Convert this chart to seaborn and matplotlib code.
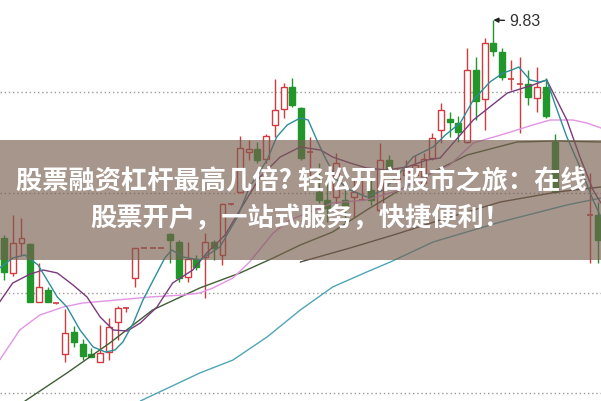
import numpy as np
import matplotlib
matplotlib.use('Agg')
import matplotlib.pyplot as plt
import seaborn as sns
from matplotlib.patches import Rectangle

nan = np.nan

# daily candles (index 0..68), prices
opens = [7.65, 7.30, 7.60, 7.59, 7.01, 7.13, 7.00, 6.49, 6.71, 6.59,
         6.49, 6.41, 6.51, 6.81, 6.95, 7.25, 7.55, 7.55, 7.55, 7.69,
         7.61, 7.26, 7.44, 7.46, 7.61, 7.48, 7.99, 8.11, 8.51, 8.54,
         8.44, 8.78, 8.94, 9.16, 8.95, 8.51, 8.11, 8.03, 8.06, 8.03,
         8.06, 8.03, 8.13, 7.93, 8.43, 8.21, 8.28, 8.28, 8.20, 8.45,
         8.73, 8.84, 8.80, 8.61, 9.33, 9.04, 9.60, 9.51, 9.24, 9.19,
         9.19, 9.05, 9.16, 8.61, nan, nan, nan, 7.88, 7.88]
closes = [7.31, 7.60, 7.65, 7.01, 7.16, 7.01, 7.00, 6.70, 6.61, 6.47,
          6.46, 6.50, 6.76, 6.95, 6.95, 7.55, 7.55, 7.55, 7.55, 7.63,
          7.25, 7.44, 7.36, 7.61, 7.55, 7.99, 7.99, 8.55, 8.54, 8.43,
          8.67, 8.93, 9.16, 8.98, 8.45, 8.53, 8.03, 7.95, 8.40, 7.95,
          8.11, 8.03, 8.03, 8.43, 8.33, 8.25, 8.33, 8.38, 8.44, 8.65,
          8.93, 8.81, 8.71, 9.33, 9.02, 9.60, 9.52, 9.26, 9.25, 9.20,
          9.06, 9.16, 8.87, 8.11, nan, nan, nan, 7.88, 7.63]
highs = [7.68, 7.88, 7.85, 7.60, 7.40, 7.16, 7.00, 6.94, 6.77, 6.64,
         6.55, 6.78, 6.85, 6.97, 6.96, 7.55, 7.55, 7.55, 7.55, 7.70,
         7.63, 7.61, 7.48, 7.70, 7.63, 8.00, 8.00, 8.67, 8.63, 8.61,
         8.69, 9.24, 9.20, 9.25, 8.96, 8.66, 8.40, 8.20, 8.50, 8.13,
         8.23, 8.26, 8.23, 8.60, 8.48, 8.35, 8.43, 8.48, 8.50, 8.70,
         9.00, 8.91, 8.87, 9.55, 9.46, 9.65, 9.83, 9.55, 9.43, 9.46,
         9.33, 9.36, 9.25, 8.69, nan, nan, nan, 8.30, 8.01]
lows = [7.23, 7.27, 7.48, 7.01, 7.01, 7.01, 6.99, 6.41, 6.56, 6.43,
        6.46, 6.41, 6.43, 6.63, 6.91, 7.16, 7.55, 7.55, 7.55, 7.40,
        7.21, 7.21, 7.33, 7.05, 7.43, 7.38, 7.98, 8.10, 8.43, 8.40,
        8.40, 8.66, 8.85, 8.96, 8.43, 8.26, 8.00, 7.81, 7.95, 7.80,
        7.86, 8.03, 7.98, 7.91, 8.31, 8.13, 8.18, 8.23, 8.18, 8.43,
        8.60, 8.66, 8.61, 8.60, 8.83, 8.73, 9.47, 9.23, 9.13, 8.70,
        8.98, 8.91, 8.85, 8.10, nan, nan, nan, 7.40, 7.40]

# moving average lines, (candle position, price)
ma5_x = [-0.5, 1.0, 2.4, 3.9, 6.1, 7.2, 8.7, 10.2, 11.6, 12.7, 13.6, 14.8, 15.9,
         17.5, 18.4, 19.2, 20.5, 22.4, 24.7, 26.7, 28.1, 30.1, 31.2, 32.4, 33.9,
         34.8, 35.8, 36.7, 38.1, 39.6, 41.5, 43.4, 45.3, 46.8, 49.1, 50.5, 52.2,
         53.7, 55.6, 57.1, 58.1, 58.9, 60.2, 61.3, 62.1, 63.0, 64.4, 65.9, 67.4, 68.3]
ma5_y = [7.35, 7.45, 7.48, 7.38, 7.06, 6.96, 6.73, 6.56, 6.51, 6.53, 6.61, 6.80, 7.03,
         7.30, 7.45, 7.53, 7.46, 7.43, 7.56, 7.86, 8.16, 8.43, 8.66, 8.78, 8.85,
         8.83, 8.63, 8.46, 8.23, 8.13, 8.06, 8.13, 8.30, 8.46, 8.56, 8.68, 8.80,
         9.03, 9.21, 9.30, 9.33, 9.36, 9.23, 9.21, 9.23, 9.00, 8.66, 8.36, 8.03, 7.86]
ma10_x = [-0.5, 1.0, 3.0, 4.5, 6.1, 7.9, 9.5, 11.0, 12.5, 14.1, 15.6, 17.5, 19.3,
          21.6, 23.2, 25.3, 27.0, 29.3, 31.6, 33.9, 36.2, 37.6, 39.6, 41.5, 43.8,
          46.1, 48.4, 49.9, 53.7, 57.6, 60.5, 62.1, 64.4, 65.9, 67.4, 68.3]
ma10_y = [7.01, 7.20, 7.29, 7.33, 7.30, 7.18, 7.06, 6.86, 6.73, 6.72, 6.80, 6.96, 7.20,
          7.33, 7.50, 7.68, 7.93, 8.26, 8.46, 8.56, 8.53, 8.46, 8.40, 8.35, 8.33,
          8.36, 8.43, 8.45, 8.83, 9.10, 9.18, 9.23, 8.83, 8.46, 8.13, 8.00]
ma20_x = [-0.5, 1.8, 4.1, 6.8, 9.0, 12.9, 16.7, 20.5, 22.4, 23.9, 26.2, 28.1, 30.8,
          32.7, 34.7, 37.6, 41.5, 45.3, 47.3, 49.1, 51.0, 53.7, 57.6, 60.5, 62.5,
          65.1, 66.7, 68.3]
ma20_y = [6.43, 6.73, 6.88, 6.96, 7.00, 7.03, 7.06, 7.08, 7.10, 7.15, 7.25, 7.41, 7.70,
          7.83, 7.90, 8.00, 8.03, 8.13, 8.23, 8.30, 8.38, 8.60, 8.70, 8.78, 8.83,
          8.83, 8.80, 8.75]
ma30_x = [2.4, 7.2, 12.1, 17.0, 22.4, 27.0, 30.8, 33.9, 37.6, 41.5, 45.3, 49.1,
          53.0, 58.7, 63.3, 68.3]
ma30_y = [6.02, 6.30, 6.60, 6.93, 7.15, 7.30, 7.45, 7.58, 7.71, 7.93, 8.13, 8.31,
          8.48, 8.61, 8.62, 8.61]
ma60_x = [33.9, 39.6, 45.3, 49.9, 56.8, 63.3, 68.3]
ma60_y = [7.41, 7.55, 7.70, 7.83, 8.01, 8.11, 8.16]
ma120_x = [15.6, 22.4, 26.2, 30.1, 33.9, 37.6, 41.5, 44.2, 49.1, 56.8, 64.4, 68.3]
ma120_y = [6.02, 6.30, 6.43, 6.66, 6.93, 7.16, 7.31, 7.41, 7.61, 7.81, 7.98, 8.05]

grid_levels = [9.11, 8.10, 7.10, 6.10]
peak_label = '9.83'
title_1 = '股票融资杠杆最高几倍? 轻松开启股市之旅：在线'
title_2 = '股票开户，一站式服务，快捷便利！'

RED = '#d23a3f'
GREEN = '#21962b'

sns.set_theme(style='white')
plt.rcParams['font.family'] = ['Noto Sans CJK SC', 'DejaVu Sans']

fig = plt.figure(figsize=(6.01, 4.01), dpi=100)
ax = fig.add_axes([0, 0, 1, 1])

o = np.array(opens); c = np.array(closes)
h = np.array(highs); l = np.array(lows)
idx = np.arange(len(o))
ok = ~np.isnan(o)
up = ok & (c >= o)
down = ok & (c < o)
doji = ok & (np.abs(c - o) < 0.02)

for yv in grid_levels:
    ax.axhline(yv, color='#9a9a9a', lw=1, ls=(0, (1, 2)), zorder=1)

ax.vlines(idx[up], l[up], h[up], color=RED, lw=1, zorder=2)
ax.vlines(idx[down], l[down], h[down], color=GREEN, lw=1, zorder=2)
bw = 0.68
body = up & ~doji
ax.bar(idx[body], (c - o)[body], bottom=o[body], width=bw,
       facecolor='white', edgecolor=RED, lw=1, zorder=3)
body = down & ~doji
ax.bar(idx[body], (o - c)[body], bottom=c[body], width=bw,
       facecolor=GREEN, edgecolor=GREEN, lw=1, zorder=3)
ax.hlines(o[doji], idx[doji] - bw / 2, idx[doji] + bw / 2,
          color=RED, lw=1.2, zorder=3)

lines = [(ma120_x, ma120_y, '#4ea6b3'), (ma60_x, ma60_y, '#4f4a3c'),
         (ma30_x, ma30_y, '#3f5f34'), (ma20_x, ma20_y, '#e394e4'),
         (ma10_x, ma10_y, '#7a3a7c'), (ma5_x, ma5_y, '#2d8d9c')]
for xs, ys, col in lines:
    sns.lineplot(x=xs, y=ys, color=col, lw=1, estimator=None, sort=False,
                 ax=ax, zorder=4)

ax.annotate(peak_label, xy=(56, 9.83), xytext=(57.8, 9.82),
            fontsize=11.5, family='Liberation Sans', color='#333333',
            va='center', ha='left',
            arrowprops=dict(arrowstyle='-|>', color='#222222', lw=1,
                            mutation_scale=7, shrinkA=1, shrinkB=0))

ax.set_xlim(-0.458, 68.31)
ax.set_ylim(6.02, 10.03)
ax.axis('off')

fig.add_artist(Rectangle((0, 1 - 260 / 401), 1, 120 / 401, transform=fig.transFigure,
                         facecolor=(0.47, 0.37, 0.31), alpha=0.65, lw=0, zorder=10))
fig.text(0.502, 1 - 181 / 401, title_1, ha='center', va='center', color='white',
         fontsize=18.9, fontweight='bold', zorder=11)
fig.text(0.5, 1 - 219 / 401, title_2, ha='center', va='center', color='white',
         fontsize=18.9, fontweight='bold', zorder=11)

fig.savefig('out.png', dpi=100)
